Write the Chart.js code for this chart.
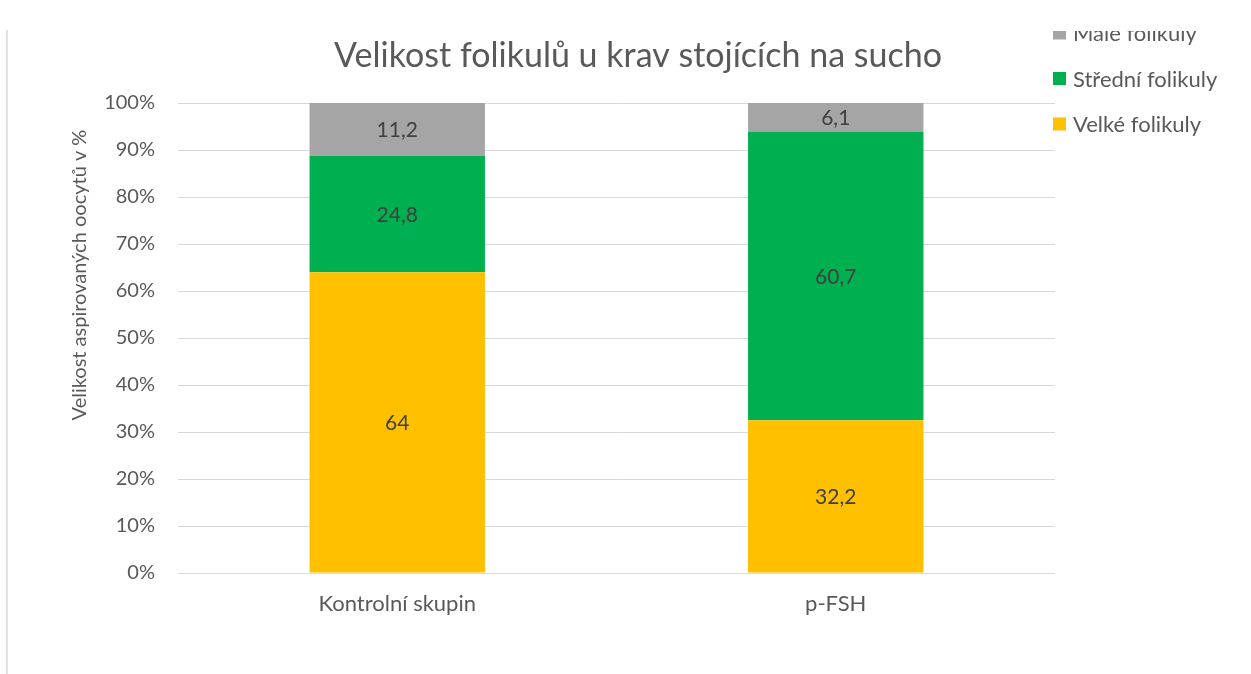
<!DOCTYPE html>
<html>
<head>
<meta charset="utf-8">
<script src="https://cdn.jsdelivr.net/npm/chart.js@4/dist/chart.umd.min.js"></script>
<style>
  html, body { margin: 0; padding: 0; background: #fff; }
  #wrap { position: relative; width: 1251px; height: 674px; overflow: hidden; }
  #vline { position: absolute; left: 6px; top: 30px; width: 2px; height: 644px; background: #E3E3E3; }
  canvas { position: absolute; left: 0; top: 0; }
</style>
</head>
<body>
<div id="wrap">
  <canvas id="c" width="1251" height="674"></canvas>
  <div id="vline"></div>
</div>
<script>
const chartTitle = 'Velikost folikulů u krav stojících na sucho';
const yAxisTitle = 'Velikost aspirovaných oocytů v %';
const categories = ['Kontrolní skupin', 'p-FSH'];
const seriesNames = ['Velké folikuly', 'Střední folikuly', 'Malé folikuly'];
const velke = [64, 32.2];
const stredni = [24.8, 60.7];
const male = [11.2, 6.1];
const yTicks = [0, 10, 20, 30, 40, 50, 60, 70, 80, 90, 100];

const rawSeries = [velke, stredni, male];
const colors = ['#FFC000', '#00B050', '#A5A5A5'];
const totals = categories.map((_, j) => rawSeries.reduce((s, arr) => s + arr[j], 0));
const pct = arr => arr.map((v, j) => v / totals[j] * 100);

const FONT = 'Lato, "Open Sans", sans-serif';
const TXT = '#595959';

const fmt = v => String(v).replace('.', ',');

const overlay = {
  id: 'overlay',
  afterDatasetsDraw(chart) {
    const ctx = chart.ctx;
    ctx.save();
    // data labels
    ctx.fillStyle = '#404040';
    ctx.font = '21px ' + FONT;
    ctx.textAlign = 'center';
    ctx.textBaseline = 'middle';
    chart.data.datasets.forEach((ds, i) => {
      const meta = chart.getDatasetMeta(i);
      meta.data.forEach((bar, j) => {
        const cy = (bar.y + bar.base) / 2;
        ctx.fillText(fmt(rawSeries[i][j]), bar.x, cy + 1);
      });
    });
    // title
    ctx.fillStyle = TXT;
    ctx.font = '34px ' + FONT;
    ctx.fillText(chartTitle, 638, 56);
    // y axis title
    ctx.save();
    ctx.translate(80, 275);
    ctx.rotate(-Math.PI / 2);
    ctx.font = '20px ' + FONT;
    ctx.fillText(yAxisTitle, 0, 0);
    ctx.restore();
    // legend (reversed order), clipped at top
    ctx.save();
    ctx.beginPath();
    ctx.rect(1030, 31, 221, 200);
    ctx.clip();
    const n = chart.data.datasets.length;
    for (let k = 0; k < n; k++) {
      const i = n - 1 - k;
      const ds = chart.data.datasets[i];
      const cy = 33 + k * 45.5;
      ctx.fillStyle = ds.backgroundColor;
      ctx.fillRect(1053, cy - 6.5, 13, 13);
      ctx.fillStyle = TXT;
      ctx.font = '22px ' + FONT;
      ctx.textAlign = 'left';
      ctx.fillText(ds.label, 1073, cy + 1);
    }
    ctx.restore();
    ctx.restore();
  }
};

new Chart(document.getElementById('c'), {
  type: 'bar',
  data: {
    labels: categories,
    datasets: rawSeries.map((arr, i) => ({
      label: seriesNames[i],
      data: pct(arr),
      backgroundColor: colors[i],
      borderWidth: 0,
      barPercentage: 0.4,
      categoryPercentage: 1.0
    }))
  },
  options: {
    responsive: false,
    animation: false,
    layout: { padding: { top: 103, right: 196, bottom: 0, left: 0 } },
    plugins: {
      legend: { display: false },
      title: { display: false },
      tooltip: { enabled: false }
    },
    scales: {
      x: {
        stacked: true,
        grid: { display: false, drawTicks: false },
        border: { display: false },
        ticks: { color: TXT, font: { family: FONT, size: 22 }, padding: 18 },
        afterFit(s) { s.height = 101; }
      },
      y: {
        stacked: true,
        min: 0,
        max: 100,
        afterBuildTicks(s) { s.ticks = yTicks.map(v => ({ value: v })); },
        grid: { color: '#D9D9D9', lineWidth: 1, drawTicks: false },
        border: { display: false },
        ticks: {
          color: TXT,
          font: { family: FONT, size: 20 },
          padding: 23,
          callback: v => v + '%'
        },
        afterFit(s) { s.width = 178; }
      }
    }
  },
  plugins: [overlay]
});
</script>
</body>
</html>
